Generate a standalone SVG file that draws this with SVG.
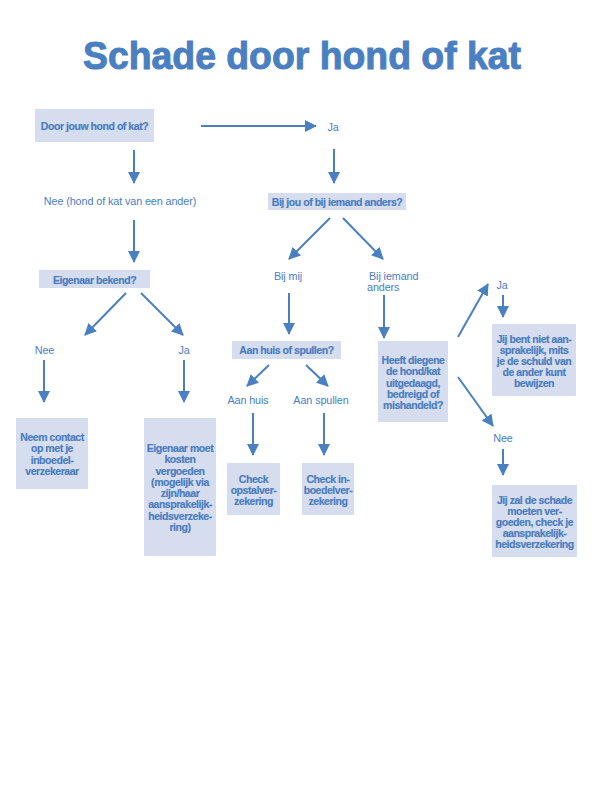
<svg xmlns="http://www.w3.org/2000/svg" width="595" height="794" viewBox="0 0 595 794">
<defs>
<marker id="ah" viewBox="0 0 12 12" markerUnits="userSpaceOnUse" markerWidth="12" markerHeight="12" refX="11" refY="6" orient="auto">
<path d="M0,0 L12,6 L0,12 z" fill="#4a7fc1"/>
</marker>
<style>
.box{fill:#d6ddef}
.q{font-family:'Liberation Sans',Arial,sans-serif;font-weight:bold;font-size:10.5px;letter-spacing:-0.45px;fill:#4a7dbf;stroke:#4a7dbf;stroke-width:0.2;text-anchor:middle}
.lbl{font-family:'Liberation Sans',Arial,sans-serif;font-size:10.8px;letter-spacing:-0.1px;fill:#4a7dbf}
.mid{text-anchor:middle}
.arr{stroke:#4a7fc1;stroke-width:2;fill:none;marker-end:url(#ah)}
</style>
</defs>
<rect width="595" height="794" fill="#ffffff"/>
<text x="83" y="69" textLength="438" lengthAdjust="spacingAndGlyphs" style="font-family:'Liberation Sans',Arial,sans-serif;font-weight:bold;font-size:39px;fill:#4a7fc1;stroke:#4a7fc1;stroke-width:1">Schade door hond of kat</text>

<g id="connectors">
<line class="arr" x1="201" y1="126" x2="316" y2="126"/>
<line class="arr" x1="134" y1="150" x2="134" y2="183"/>
<line class="arr" x1="334" y1="149" x2="334" y2="183"/>
<line class="arr" x1="134" y1="220" x2="134" y2="262"/>
<line class="arr" x1="330" y1="218" x2="289" y2="259"/>
<line class="arr" x1="343" y1="218" x2="383" y2="259"/>
<line class="arr" x1="126" y1="293" x2="85" y2="335"/>
<line class="arr" x1="141" y1="293" x2="183" y2="335"/>
<line class="arr" x1="44" y1="360" x2="44" y2="402"/>
<line class="arr" x1="184" y1="360" x2="184" y2="402"/>
<line class="arr" x1="289" y1="293" x2="289" y2="334"/>
<line class="arr" x1="384" y1="295" x2="384" y2="338"/>
<line class="arr" x1="269" y1="365" x2="247" y2="386"/>
<line class="arr" x1="306" y1="365" x2="328" y2="386"/>
<line class="arr" x1="253" y1="413" x2="253" y2="455"/>
<line class="arr" x1="324" y1="413" x2="324" y2="455"/>
<line class="arr" x1="458" y1="337" x2="488" y2="284"/>
<line class="arr" x1="458" y1="377" x2="493" y2="426"/>
<line class="arr" x1="503" y1="295" x2="503" y2="317"/>
<line class="arr" x1="503" y1="449" x2="503" y2="475"/>
</g>

<g id="n-door">
<rect class="box" x="35" y="109" width="119" height="33"/>
<text class="q" x="94.5" y="130">Door jouw hond of kat?</text>
</g>
<g id="l-ja1"><text class="lbl mid" x="333" y="131">Ja</text></g>
<g id="l-nee1"><text class="lbl mid" x="120" y="205">Nee (hond of kat van een ander)</text></g>
<g id="n-bijjou">
<rect class="box" x="268" y="193" width="138" height="17"/>
<text class="q" x="337" y="205.5">Bij jou of bij iemand anders?</text>
</g>
<g id="l-bijmij"><text class="lbl mid" x="288" y="280">Bij mij</text></g>
<g id="l-bijiemand"><text class="lbl" x="369" y="280">Bij iemand</text><text class="lbl" x="367" y="291">anders</text></g>
<g id="n-eigenaar">
<rect class="box" x="39" y="270" width="111" height="18"/>
<text class="q" x="94.5" y="283.5">Eigenaar bekend?</text>
</g>
<g id="l-nee2"><text class="lbl mid" x="44.5" y="354">Nee</text></g>
<g id="l-ja2"><text class="lbl mid" x="184" y="354">Ja</text></g>
<g id="n-neem">
<rect class="box" x="16" y="418" width="72" height="71"/>
<text class="q" x="52" y="441">Neem  contact</text>
<text class="q" x="52" y="452">op met je</text>
<text class="q" x="52" y="464">inboedel-</text>
<text class="q" x="52" y="475">verzekeraar</text>
</g>
<g id="n-eigenaarmoet">
<rect class="box" x="144" y="418" width="72" height="138"/>
<text class="q" x="180" y="452">Eigenaar moet</text>
<text class="q" x="180" y="463">kosten</text>
<text class="q" x="180" y="475">vergoeden</text>
<text class="q" x="180" y="486">(mogelijk via</text>
<text class="q" x="180" y="497">zijn/haar</text>
<text class="q" x="180" y="508">aansprakelijk-</text>
<text class="q" x="180" y="520">heidsverzeke-</text>
<text class="q" x="180" y="531">ring)</text>
</g>
<g id="n-aanhuisofspullen">
<rect class="box" x="232" y="341" width="109" height="18"/>
<text class="q" x="286.5" y="354">Aan huis of spullen?</text>
</g>
<g id="l-aanhuis"><text class="lbl mid" x="248" y="404">Aan huis</text></g>
<g id="l-aanspullen"><text class="lbl mid" x="321" y="404">Aan spullen</text></g>
<g id="n-opstal">
<rect class="box" x="227" y="463" width="53" height="52"/>
<text class="q" x="253.5" y="483">Check</text>
<text class="q" x="253.5" y="494">opstalver-</text>
<text class="q" x="253.5" y="505">zekering</text>
</g>
<g id="n-inboedel">
<rect class="box" x="302" y="463" width="52" height="52"/>
<text class="q" x="328" y="483">Check in-</text>
<text class="q" x="328" y="494">boedelver-</text>
<text class="q" x="328" y="505">zekering</text>
</g>
<g id="n-heeft">
<rect class="box" x="378" y="341" width="70" height="81"/>
<text class="q" x="413" y="364">Heeft diegene</text>
<text class="q" x="413" y="375">de hond/kat</text>
<text class="q" x="413" y="386.5">uitgedaagd,</text>
<text class="q" x="413" y="398">bedreigd of</text>
<text class="q" x="413" y="409">mishandeld?</text>
</g>
<g id="l-ja3"><text class="lbl mid" x="502" y="289">Ja</text></g>
<g id="n-jijbent">
<rect class="box" x="492" y="324" width="84" height="72"/>
<text class="q" x="534" y="343">Jij bent niet aan-</text>
<text class="q" x="534" y="354">sprakelijk, mits</text>
<text class="q" x="534" y="365">je de schuld van</text>
<text class="q" x="534" y="376">de ander kunt</text>
<text class="q" x="534" y="387">bewijzen</text>
</g>
<g id="l-nee3"><text class="lbl mid" x="503" y="442">Nee</text></g>
<g id="n-jijzal">
<rect class="box" x="492" y="485" width="85" height="72"/>
<text class="q" x="534.5" y="504">Jij zal  de schade</text>
<text class="q" x="534.5" y="515">moeten ver-</text>
<text class="q" x="534.5" y="526">goeden, check je</text>
<text class="q" x="534.5" y="537">aansprakelijk-</text>
<text class="q" x="534.5" y="548">heidsverzekering</text>
</g>
</svg>
